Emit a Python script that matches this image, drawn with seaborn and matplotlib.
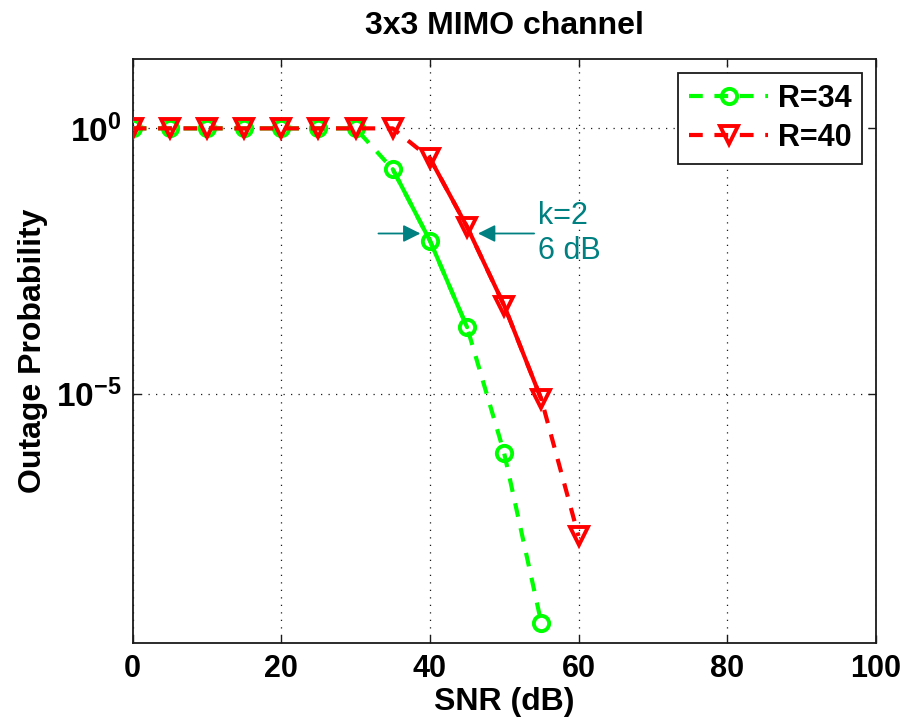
import numpy as np
import pandas as pd
import seaborn as sns
import matplotlib.pyplot as plt
from matplotlib.ticker import FixedLocator, NullLocator, FixedFormatter

# === Data ===
snr_34 = [0, 5, 10, 15, 20, 25, 30, 35, 40, 45, 50, 55]
pout_34 = [1, 1, 1, 1, 1, 1, 1, 1.7e-1, 7.7e-3, 1.8e-4, 7.6e-7, 4.8e-10]

snr_40 = [0, 5, 10, 15, 20, 25, 30, 35, 40, 45, 50, 55, 60]
pout_40 = [1, 1, 1, 1, 1, 1, 1, 1, 2.75e-1, 1.4e-2, 4.6e-4, 7.9e-6, 2.1e-8]

# solid part of each curve (SNR range)
solid_34 = (35, 45)
solid_40 = (40, 55)

df34 = pd.DataFrame({"snr": snr_34, "pout": pout_34})
df40 = pd.DataFrame({"snr": snr_40, "pout": pout_40})

# === Style ===
sns.set_theme(style="ticks")
plt.rcParams["font.family"] = ["Liberation Sans", "DejaVu Sans"]
plt.rcParams["font.weight"] = "bold"
plt.rcParams["mathtext.fontset"] = "custom"
plt.rcParams["mathtext.rm"] = "Liberation Sans:bold"
plt.rcParams["mathtext.it"] = "Liberation Sans:bold"
plt.rcParams["mathtext.bf"] = "Liberation Sans:bold"
plt.rcParams["xtick.direction"] = "in"
plt.rcParams["ytick.direction"] = "in"
for key in ["text.color", "axes.labelcolor", "xtick.color", "ytick.color"]:
    plt.rcParams[key] = "black"

GREEN = (0, 1, 0)
RED = (1, 0, 0)
TEAL = (0, 0.5, 0.5)
LW = 3.0
DASH = (0, (3.3, 2.8))

fig = plt.figure(figsize=(9.07, 7.25), dpi=100)
ax = fig.add_axes([0.1463, 0.1127, 0.8192, 0.8055])

# dashed full curves with markers
sns.lineplot(data=df34, x="snr", y="pout", ax=ax, color=GREEN, linewidth=LW,
             linestyle=DASH, marker="o", markersize=11, markerfacecolor="none",
             markeredgecolor=GREEN, markeredgewidth=2.8, errorbar=None,
             label="R=34", zorder=3)
sns.lineplot(data=df40, x="snr", y="pout", ax=ax, color=RED, linewidth=LW,
             linestyle=DASH, marker="v", markersize=13, markerfacecolor="none",
             markeredgecolor=RED, markeredgewidth=2.8, errorbar=None,
             label="R=40", zorder=3)

# solid segments
seg34 = df34[(df34["snr"] >= solid_34[0]) & (df34["snr"] <= solid_34[1])]
seg40 = df40[(df40["snr"] >= solid_40[0]) & (df40["snr"] <= solid_40[1])]
sns.lineplot(data=seg34, x="snr", y="pout", ax=ax, color=GREEN, linewidth=LW,
             linestyle="-", errorbar=None, legend=False, zorder=2.5)
sns.lineplot(data=seg40, x="snr", y="pout", ax=ax, color=RED, linewidth=LW,
             linestyle="-", errorbar=None, legend=False, zorder=2.5)

# === Axes ===
ax.set_yscale("log")
ax.set_xlim(0, 100)
ax.set_ylim(2e-10, 20)
ax.xaxis.set_major_locator(FixedLocator([0, 20, 40, 60, 80, 100]))
ax.yaxis.set_major_locator(FixedLocator([1e-5, 1]))
ax.yaxis.set_major_formatter(FixedFormatter([r"$10^{-5}$", r"$10^{0}$"]))
ax.yaxis.set_minor_locator(NullLocator())
ax.tick_params(axis="both", labelsize=22, length=6, width=1, color="k",
               top=True, right=True, pad=8)
ax.tick_params(axis="y", labelsize=24)
for lab in ax.get_xticklabels():
    lab.set_fontweight("bold")
for s in ax.spines.values():
    s.set_visible(True)
    s.set_color("k")
    s.set_linewidth(1.3)

ax.grid(True, which="major", color="k", linestyle=(0, (1, 5)), linewidth=0.9)

ax.set_xlabel("SNR (dB)", fontsize=23, fontweight="bold", labelpad=2)
ax.set_ylabel("Outage Probability", fontsize=23, fontweight="bold", labelpad=6)
ax.set_title("3x3 MIMO channel", fontsize=23, fontweight="bold", pad=18)

# === Annotation ===
ax.annotate("", xy=(39.1, 10 ** -1.98), xytext=(32.7, 10 ** -1.98),
            arrowprops=dict(arrowstyle="-|>", color=TEAL, lw=1.3, mutation_scale=26))
ax.annotate("", xy=(46.1, 10 ** -1.98), xytext=(54.4, 10 ** -1.98),
            arrowprops=dict(arrowstyle="-|>", color=TEAL, lw=1.3, mutation_scale=26))
ax.text(54.5, 10 ** -1.98, "k=2\n6 dB", color=TEAL, fontsize=22, fontweight="normal",
        ha="left", va="center", linespacing=1.2)

leg = ax.legend(loc="upper right", fontsize=22, frameon=True, fancybox=False,
                edgecolor="k", framealpha=1, handlelength=2.6, borderaxespad=0.45,
                borderpad=0.35, labelspacing=0.3, handletextpad=0.3)
leg.get_frame().set_linewidth(1.3)
for t in leg.get_texts():
    t.set_fontweight("bold")

fig.savefig("out.png", dpi=100)
